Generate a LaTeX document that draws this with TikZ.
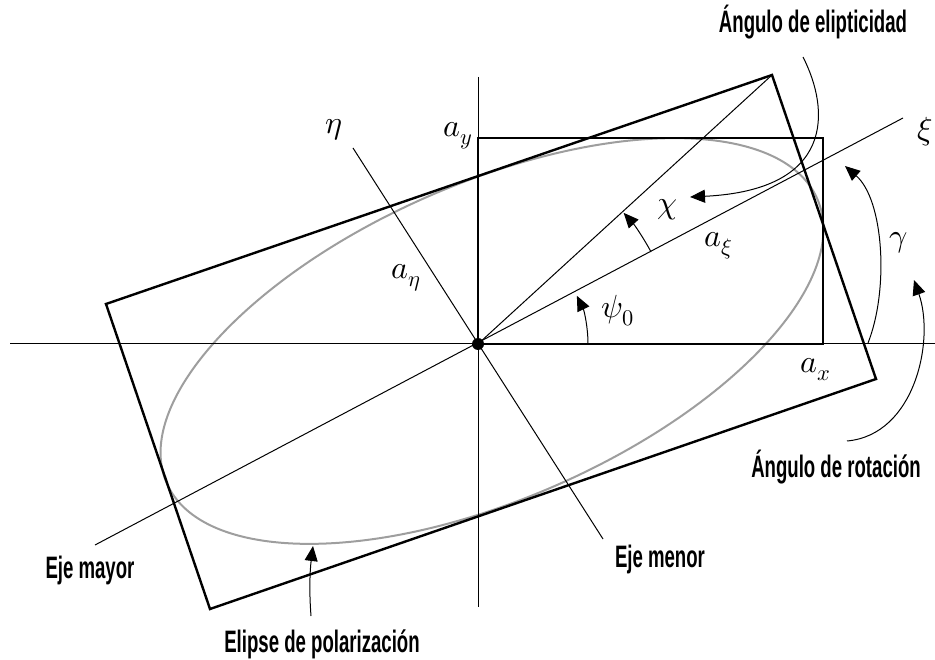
\documentclass[tikz,border=0pt]{standalone}
\usepackage{fontspec}
\usepackage{unicode-math}
\setmathfont{Latin Modern Math}
\newfontfamily\labfont[FakeStretch=0.6]{Liberation Sans}
\usetikzlibrary{arrows.meta}
\begin{document}
\begin{tikzpicture}[x=1pt,y=-1pt,
  axisline/.style={line width=1pt},
  boxline/.style={line width=2.4pt, line join=miter},
  ell/.style={line width=2pt, draw=black!38},
  arr/.style={line width=1pt, -{Triangle[length=15pt,width=13pt]}},
  lab/.style={font=\labfont\bfseries\fontsize{31}{33}\selectfont, inner sep=0pt, anchor=base},
  mlab/.style={font=\fontsize{32}{36}\selectfont, inner sep=0pt}]
\useasboundingbox (0,0) rectangle (935,660);
% points
\coordinate (O) at (478,344);
\coordinate (H1) at (10,344);  \coordinate (H2) at (935,344);
\coordinate (V1) at (478,77);  \coordinate (V2) at (478,607);
\coordinate (X1) at (95,545);  \coordinate (X2) at (903,118);
\coordinate (N1) at (353,148); \coordinate (N2) at (603,539);
\coordinate (R1) at (772,75);  \coordinate (R2) at (876,379);
\coordinate (R3) at (210,609); \coordinate (R4) at (106,304);
\coordinate (AX) at (823,344); \coordinate (AY) at (478,138);
\coordinate (AXY) at (823,138);
\coordinate (EC) at (492,341);
% ellipse
\draw[ell, rotate around={23.6:(EC)}] (EC) ellipse [x radius=355pt, y radius=158pt];
% axes
\draw[axisline] (H1) -- (H2);
\draw[axisline] (V1) -- (V2);
\draw[axisline] (X1) -- (X2);
\draw[axisline] (N1) -- (N2);
\draw[axisline] (O) -- (R1);
% rectangles
\draw[boxline] (O) -- (AX) -- (AXY) -- (AY) -- cycle;
\draw[boxline] (R1) -- (R2) -- (R3) -- (R4) -- cycle;
\fill (O) circle (6pt);
% angle arcs
\draw[arr] (O) ++(28:196pt) arc[start angle=28, end angle=42, radius=196pt];
\draw[arr] (O) ++(0:110pt) arc[start angle=0, end angle=26, radius=110pt];
\coordinate (G1) at (868,343); \coordinate (G2) at (845,166);
\draw[arr] (G1) .. controls (889,290) and (884,200) .. (G2);
% label arrows
\coordinate (RA1) at (847,441); \coordinate (RA2) at (914,280);
\draw[arr] (RA1) .. controls (915,435) and (935,340) .. (RA2);
\coordinate (EA1) at (803,57); \coordinate (EA2) at (690,197);
\draw[arr] (EA1) .. controls (830,110) and (835,190) .. (EA2);
\coordinate (PA1) at (311,616); \coordinate (PA2) at (313,546);
\draw[arr] (PA1) .. controls (309,590) and (310,570) .. (PA2);
% text labels
\node[lab] (t1) at (813,33) {Ángulo de elipticidad};
\node[lab] (t2) at (836,477) {Ángulo de rotación};
\node[lab] (t3) at (90,578) {Eje mayor};
\node[lab] (t4) at (660,567) {Eje menor};
\node[lab] (t5) at (322,652) {Elipse de polarización};
% math labels
\node[mlab] (m1) at (334,130) {$\eta$};
\node[mlab] (m2) at (458,136) {$a_y$};
\node[mlab] (m3) at (406,278) {$a_\eta$};
\node[mlab] (m4) at (668,210) {$\chi$};
\node[mlab] (m5) at (719,246) {$a_\xi$};
\node[mlab] (m6) at (618,311) {$\psi_0$};
\node[mlab] (m7) at (899,243) {$\gamma$};
\node[mlab] (m8) at (816,370) {$a_x$};
\node[mlab] (m9) at (925,132) {$\xi$};
\end{tikzpicture}
\end{document}
